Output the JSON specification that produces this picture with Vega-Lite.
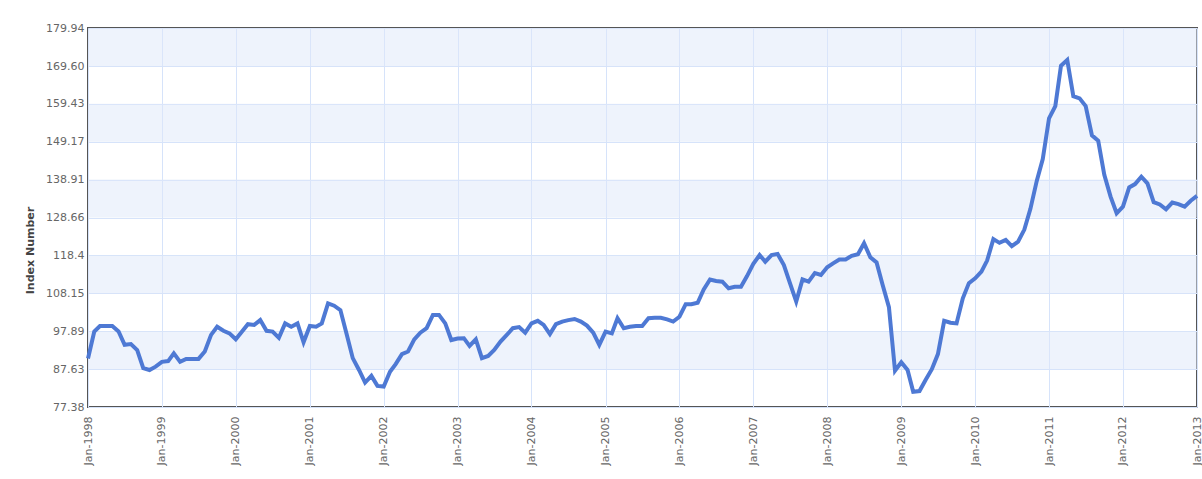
{
  "$schema": "https://vega.github.io/schema/vega-lite/v6.json",
  "width": 1109,
  "height": 379,
  "autosize": {"type": "none"},
  "padding": {"left": 88, "top": 28, "right": 5, "bottom": 72},
  "background": "white",
  "config": {
    "view": {"stroke": "#555555", "strokeWidth": 2},
    "axis": {
      "labelFont": "DejaVu Sans",
      "labelFontSize": 11,
      "labelColor": "#666666",
      "gridColor": "#d6e3fa",
      "gridWidth": 1,
      "gridOpacity": 1,
      "ticks": false,
      "domain": false,
      "labelFlush": false,
      "labelOverlap": false
    }
  },
  "datasets": {
    "bands": [
      {"lo": 87.63, "hi": 97.89},
      {"lo": 108.15, "hi": 118.4},
      {"lo": 128.66, "hi": 138.91},
      {"lo": 149.17, "hi": 159.43},
      {"lo": 169.6, "hi": 179.94}
    ],
    "series": [
      {"d": "1998-01", "v": 90.5}, {"d": "1998-02", "v": 97.8}, {"d": "1998-03", "v": 99.3}, {"d": "1998-04", "v": 99.3},
      {"d": "1998-05", "v": 99.3}, {"d": "1998-06", "v": 97.8}, {"d": "1998-07", "v": 94.2}, {"d": "1998-08", "v": 94.4},
      {"d": "1998-09", "v": 92.8}, {"d": "1998-10", "v": 87.9}, {"d": "1998-11", "v": 87.4}, {"d": "1998-12", "v": 88.3},
      {"d": "1999-01", "v": 89.6}, {"d": "1999-02", "v": 89.8}, {"d": "1999-03", "v": 91.9}, {"d": "1999-04", "v": 89.6},
      {"d": "1999-05", "v": 90.4}, {"d": "1999-06", "v": 90.4}, {"d": "1999-07", "v": 90.4}, {"d": "1999-08", "v": 92.4},
      {"d": "1999-09", "v": 96.9}, {"d": "1999-10", "v": 99.1}, {"d": "1999-11", "v": 98.0}, {"d": "1999-12", "v": 97.3},
      {"d": "2000-01", "v": 95.7}, {"d": "2000-02", "v": 97.8}, {"d": "2000-03", "v": 99.8}, {"d": "2000-04", "v": 99.6},
      {"d": "2000-05", "v": 100.9}, {"d": "2000-06", "v": 98.0}, {"d": "2000-07", "v": 97.8}, {"d": "2000-08", "v": 96.1},
      {"d": "2000-09", "v": 100.0}, {"d": "2000-10", "v": 99.1}, {"d": "2000-11", "v": 100.0}, {"d": "2000-12", "v": 94.9},
      {"d": "2001-01", "v": 99.3}, {"d": "2001-02", "v": 99.1}, {"d": "2001-03", "v": 100.0}, {"d": "2001-04", "v": 105.4},
      {"d": "2001-05", "v": 104.8}, {"d": "2001-06", "v": 103.6}, {"d": "2001-07", "v": 97.3}, {"d": "2001-08", "v": 90.6},
      {"d": "2001-09", "v": 87.4}, {"d": "2001-10", "v": 84.0}, {"d": "2001-11", "v": 85.8}, {"d": "2001-12", "v": 83.1},
      {"d": "2002-01", "v": 82.9}, {"d": "2002-02", "v": 86.9}, {"d": "2002-03", "v": 89.0}, {"d": "2002-04", "v": 91.7},
      {"d": "2002-05", "v": 92.4}, {"d": "2002-06", "v": 95.7}, {"d": "2002-07", "v": 97.5}, {"d": "2002-08", "v": 98.7},
      {"d": "2002-09", "v": 102.3}, {"d": "2002-10", "v": 102.3}, {"d": "2002-11", "v": 100.0}, {"d": "2002-12", "v": 95.5},
      {"d": "2003-01", "v": 95.9}, {"d": "2003-02", "v": 96.0}, {"d": "2003-03", "v": 93.9}, {"d": "2003-04", "v": 95.7},
      {"d": "2003-05", "v": 90.6}, {"d": "2003-06", "v": 91.2}, {"d": "2003-07", "v": 92.8}, {"d": "2003-08", "v": 95.1},
      {"d": "2003-09", "v": 96.9}, {"d": "2003-10", "v": 98.7}, {"d": "2003-11", "v": 99.0}, {"d": "2003-12", "v": 97.5},
      {"d": "2004-01", "v": 100.0}, {"d": "2004-02", "v": 100.7}, {"d": "2004-03", "v": 99.6}, {"d": "2004-04", "v": 97.1},
      {"d": "2004-05", "v": 99.8}, {"d": "2004-06", "v": 100.5}, {"d": "2004-07", "v": 100.9}, {"d": "2004-08", "v": 101.2},
      {"d": "2004-09", "v": 100.5}, {"d": "2004-10", "v": 99.4}, {"d": "2004-11", "v": 97.5}, {"d": "2004-12", "v": 94.2},
      {"d": "2005-01", "v": 97.8}, {"d": "2005-02", "v": 97.3}, {"d": "2005-03", "v": 101.4}, {"d": "2005-04", "v": 98.7},
      {"d": "2005-05", "v": 99.1}, {"d": "2005-06", "v": 99.3}, {"d": "2005-07", "v": 99.3}, {"d": "2005-08", "v": 101.4},
      {"d": "2005-09", "v": 101.5}, {"d": "2005-10", "v": 101.5}, {"d": "2005-11", "v": 101.1}, {"d": "2005-12", "v": 100.5},
      {"d": "2006-01", "v": 101.8}, {"d": "2006-02", "v": 105.2}, {"d": "2006-03", "v": 105.2}, {"d": "2006-04", "v": 105.6},
      {"d": "2006-05", "v": 109.2}, {"d": "2006-06", "v": 111.9}, {"d": "2006-07", "v": 111.5}, {"d": "2006-08", "v": 111.3},
      {"d": "2006-09", "v": 109.5}, {"d": "2006-10", "v": 109.9}, {"d": "2006-11", "v": 109.9}, {"d": "2006-12", "v": 112.8},
      {"d": "2007-01", "v": 116.1}, {"d": "2007-02", "v": 118.5}, {"d": "2007-03", "v": 116.7}, {"d": "2007-04", "v": 118.5},
      {"d": "2007-05", "v": 118.8}, {"d": "2007-06", "v": 115.8}, {"d": "2007-07", "v": 110.9}, {"d": "2007-08", "v": 105.9},
      {"d": "2007-09", "v": 111.9}, {"d": "2007-10", "v": 111.3}, {"d": "2007-11", "v": 113.6}, {"d": "2007-12", "v": 113.1},
      {"d": "2008-01", "v": 115.2}, {"d": "2008-02", "v": 116.3}, {"d": "2008-03", "v": 117.3}, {"d": "2008-04", "v": 117.3},
      {"d": "2008-05", "v": 118.3}, {"d": "2008-06", "v": 118.7}, {"d": "2008-07", "v": 121.7}, {"d": "2008-08", "v": 117.9},
      {"d": "2008-09", "v": 116.5}, {"d": "2008-10", "v": 110.4}, {"d": "2008-11", "v": 104.4}, {"d": "2008-12", "v": 87.2},
      {"d": "2009-01", "v": 89.5}, {"d": "2009-02", "v": 87.4}, {"d": "2009-03", "v": 81.5}, {"d": "2009-04", "v": 81.7},
      {"d": "2009-05", "v": 84.7}, {"d": "2009-06", "v": 87.6}, {"d": "2009-07", "v": 91.7}, {"d": "2009-08", "v": 100.7},
      {"d": "2009-09", "v": 100.2}, {"d": "2009-10", "v": 100.0}, {"d": "2009-11", "v": 106.8}, {"d": "2009-12", "v": 110.9},
      {"d": "2010-01", "v": 112.2}, {"d": "2010-02", "v": 114.0}, {"d": "2010-03", "v": 117.0}, {"d": "2010-04", "v": 122.8},
      {"d": "2010-05", "v": 121.8}, {"d": "2010-06", "v": 122.6}, {"d": "2010-07", "v": 120.9}, {"d": "2010-08", "v": 122.1},
      {"d": "2010-09", "v": 125.4}, {"d": "2010-10", "v": 131.0}, {"d": "2010-11", "v": 138.5}, {"d": "2010-12", "v": 144.5},
      {"d": "2011-01", "v": 155.5}, {"d": "2011-02", "v": 158.8}, {"d": "2011-03", "v": 169.7}, {"d": "2011-04", "v": 171.3},
      {"d": "2011-05", "v": 161.5}, {"d": "2011-06", "v": 160.9}, {"d": "2011-07", "v": 158.8}, {"d": "2011-08", "v": 150.9},
      {"d": "2011-09", "v": 149.4}, {"d": "2011-10", "v": 140.2}, {"d": "2011-11", "v": 134.3}, {"d": "2011-12", "v": 129.8},
      {"d": "2012-01", "v": 131.6}, {"d": "2012-02", "v": 136.8}, {"d": "2012-03", "v": 137.7}, {"d": "2012-04", "v": 139.7},
      {"d": "2012-05", "v": 137.9}, {"d": "2012-06", "v": 132.8}, {"d": "2012-07", "v": 132.2}, {"d": "2012-08", "v": 130.9},
      {"d": "2012-09", "v": 132.7}, {"d": "2012-10", "v": 132.3}, {"d": "2012-11", "v": 131.6}, {"d": "2012-12", "v": 133.2},
      {"d": "2013-01", "v": 134.5}
    ]
  },
  "layer": [
    {
      "data": {"name": "bands"},
      "mark": {"type": "rect", "fill": "#dde7f9", "opacity": 0.5},
      "encoding": {
        "y": {
          "field": "lo", "type": "quantitative",
          "scale": {"domain": [77.38, 179.94], "nice": false, "zero": false},
          "axis": {
            "title": "Index Number",
            "values": [77.38, 87.63, 97.89, 108.15, 118.4, 128.66, 138.91, 149.17, 159.43, 169.6, 179.94],
            "labelExpr": "datum.value == 169.6 ? '169.60' : format(datum.value, '.2~f')",
            "labelPadding": 4,
            "grid": true,
            "titleFont": "DejaVu Sans",
            "titleFontSize": 11,
            "titleFontWeight": "bold",
            "titleColor": "#444444",
            "titleAngle": -90,
            "titleAlign": "center",
            "titleBaseline": "middle",
            "titleX": -58,
            "titleY": 222
          }
        },
        "y2": {"field": "hi"}
      }
    },
    {
      "data": {"name": "series"},
      "mark": {"type": "line", "color": "#4e79d4", "strokeWidth": 4},
      "encoding": {
        "x": {
          "field": "d", "type": "temporal",
          "scale": {"type": "utc", "domain": [{"year": 1998, "month": 1, "date": 1, "utc": true}, {"year": 2013, "month": 1, "date": 1, "utc": true}]},
          "axis": {
            "title": null,
            "labelExpr": "utcFormat(datum.value, '%b-%Y')",
            "labelAngle": -90,
            "labelPadding": 9,
            "grid": true,
            "values": [
              {"year": 1998, "month": 1, "date": 1, "utc": true},
              {"year": 1999, "month": 1, "date": 1, "utc": true},
              {"year": 2000, "month": 1, "date": 1, "utc": true},
              {"year": 2001, "month": 1, "date": 1, "utc": true},
              {"year": 2002, "month": 1, "date": 1, "utc": true},
              {"year": 2003, "month": 1, "date": 1, "utc": true},
              {"year": 2004, "month": 1, "date": 1, "utc": true},
              {"year": 2005, "month": 1, "date": 1, "utc": true},
              {"year": 2006, "month": 1, "date": 1, "utc": true},
              {"year": 2007, "month": 1, "date": 1, "utc": true},
              {"year": 2008, "month": 1, "date": 1, "utc": true},
              {"year": 2009, "month": 1, "date": 1, "utc": true},
              {"year": 2010, "month": 1, "date": 1, "utc": true},
              {"year": 2011, "month": 1, "date": 1, "utc": true},
              {"year": 2012, "month": 1, "date": 1, "utc": true},
              {"year": 2013, "month": 1, "date": 1, "utc": true}
            ]
          }
        },
        "y": {
          "field": "v", "type": "quantitative",
          "scale": {"domain": [77.38, 179.94], "nice": false, "zero": false},
          "axis": {
            "title": "Index Number",
            "values": [77.38, 87.63, 97.89, 108.15, 118.4, 128.66, 138.91, 149.17, 159.43, 169.6, 179.94],
            "labelExpr": "datum.value == 169.6 ? '169.60' : format(datum.value, '.2~f')",
            "labelPadding": 4,
            "grid": true,
            "titleFont": "DejaVu Sans",
            "titleFontSize": 11,
            "titleFontWeight": "bold",
            "titleColor": "#444444",
            "titleAngle": -90,
            "titleAlign": "center",
            "titleBaseline": "middle",
            "titleX": -58,
            "titleY": 222
          }
        }
      }
    }
  ]
}
